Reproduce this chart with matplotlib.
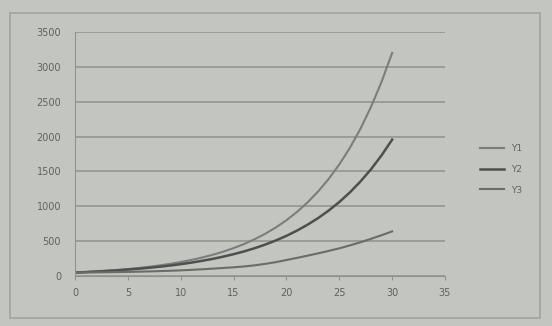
import numpy as np
import matplotlib
matplotlib.use("Agg")
import matplotlib.pyplot as plt
from matplotlib.patches import Rectangle

x = list(range(31))
y1 = [50, 57, 66, 76, 87, 100, 115, 132, 152, 174, 200, 230, 264, 303, 348, 400,
      459, 528, 606, 696, 800, 919, 1056, 1213, 1393, 1600, 1838, 2111, 2425, 2786, 3200]
y2 = [50, 56, 64, 72, 81, 92, 104, 118, 133, 150, 170, 192, 217, 245, 277, 313,
      353, 399, 451, 510, 576, 651, 736, 831, 939, 1061, 1199, 1355, 1531, 1731, 1956]
y3 = [50, 51, 52, 54, 56, 59, 62, 66, 70, 75, 81, 88, 96, 105, 115, 125,
      137, 153, 174, 199, 229, 260, 292, 325, 360, 397, 439, 484, 533, 585, 640]
labels = ["Y1", "Y2", "Y3"]
xticks = [0, 5, 10, 15, 20, 25, 30, 35]
yticks = [0, 500, 1000, 1500, 2000, 2500, 3000, 3500]

bg = "#c3c5c0"
fig = plt.figure(figsize=(5.52, 3.26), dpi=100, facecolor=bg)
ax = fig.add_axes([75 / 552, 1 - 276 / 326, 370 / 552, 244 / 326])
ax.set_facecolor(bg)

# chart frame
fig.patches.append(Rectangle((10 / 552, 8 / 326), 530 / 552, 305 / 326,
                             transform=fig.transFigure, fill=False,
                             edgecolor="#a2a49f", lw=1.2))

ax.plot(x, y1, color="#7c7e7b", lw=1.5, label=labels[0])
ax.plot(x, y2, color="#4e504d", lw=1.8, label=labels[1])
ax.plot(x, y3, color="#6a6c69", lw=1.5, label=labels[2])

ax.set_xlim(0, 35)
ax.set_ylim(0, 3500)
ax.set_xticks(xticks)
ax.set_yticks(yticks)
ax.grid(axis="y", color="#90928e", lw=1.1)
ax.set_axisbelow(True)
for s in ["top", "right"]:
    ax.spines[s].set_visible(False)
ax.spines["left"].set_color("#90928e")
ax.spines["bottom"].set_color("#90928e")
ax.tick_params(axis="y", length=0, pad=10, labelsize=7, labelcolor="#60625f")
ax.tick_params(axis="x", length=3, color="#90928e", direction="out",
               pad=6, labelsize=7, labelcolor="#60625f")

fig.legend(loc="upper left", bbox_to_anchor=(472 / 552, 1 - 136 / 326),
           frameon=False, fontsize=6.5, handlelength=2.6, labelspacing=1.3,
           labelcolor="#60625f")

fig.savefig("out.png", dpi=100, facecolor=bg)
